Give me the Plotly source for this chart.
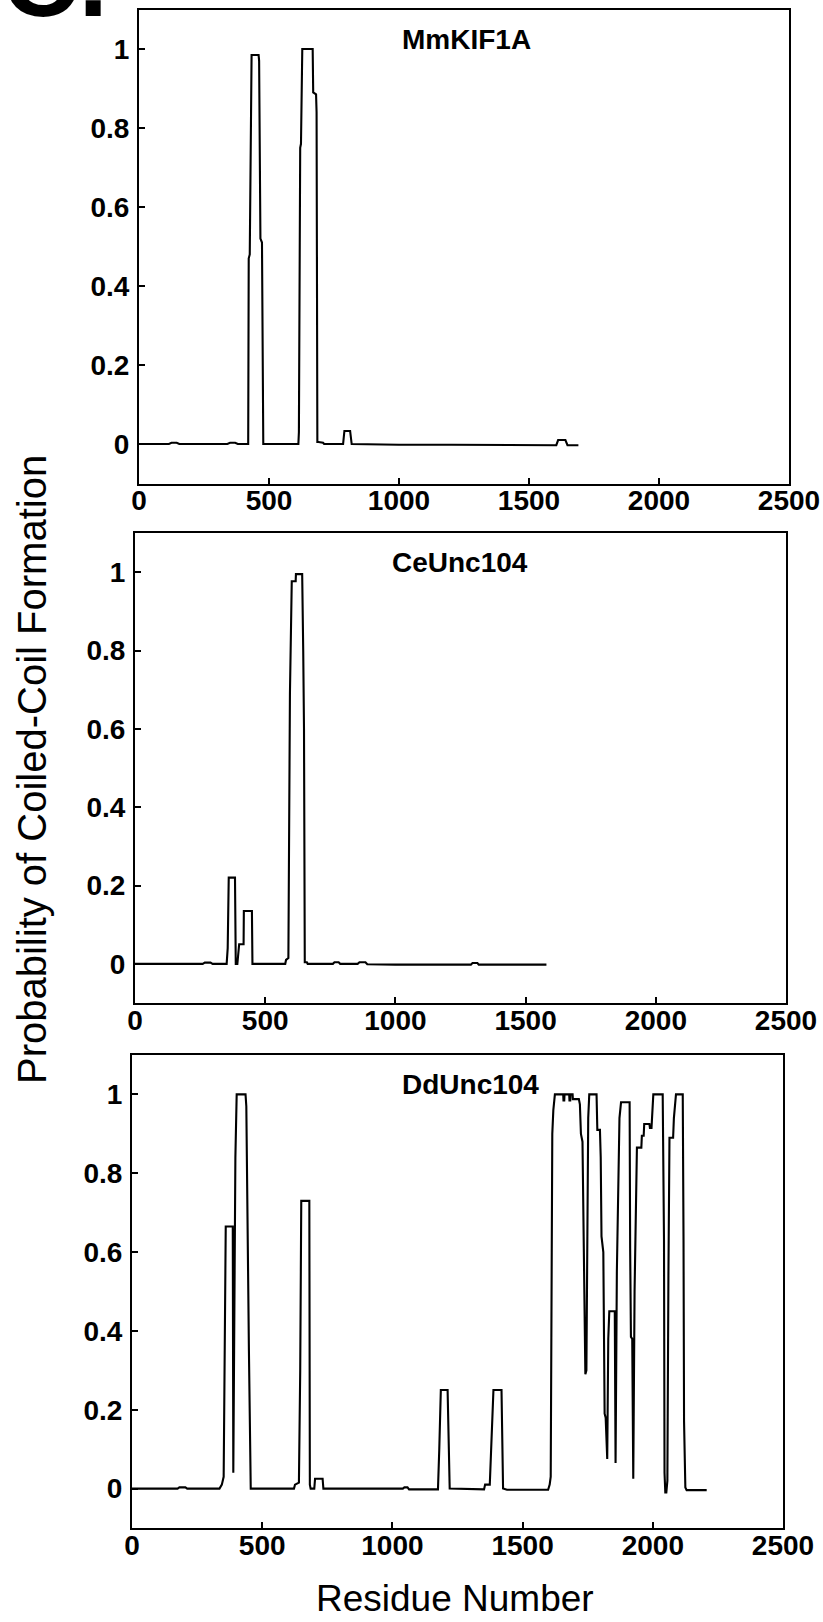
import plotly.graph_objects as go

# ---------------- data (residue number, probability) ----------------
kif1a_res = [0, 115, 125, 145, 155, 340, 350, 370, 380, 420, 422, 426, 433, 460, 462, 465, 467,
             473, 478, 613, 615, 620, 623, 628, 668, 670, 681, 683, 686, 690, 708, 712, 785, 790,
             812, 818, 1000, 1200, 1400, 1605, 1612, 1640, 1648, 1690]
kif1a_prob = [0, 0, 0.003, 0.003, 0, 0, 0.003, 0.003, 0, 0, 0.47, 0.48, 0.985, 0.985, 0.97, 0.53,
              0.52, 0.51, 0, 0, 0.03, 0.75, 0.76, 1.0, 1.0, 0.89, 0.885, 0.84, 0.005, 0.005,
              0.003, 0, 0, 0.033, 0.033, 0, -0.002, -0.002, -0.003, -0.003, 0.01, 0.01,
              -0.003, -0.003]

ceunc_res = [0, 260, 268, 290, 298, 352, 356, 360, 384, 387, 393, 400, 417, 418, 449, 451,
             577, 580, 589, 595, 602, 617, 618, 642, 646, 649, 652, 660, 663,
             760, 766, 782, 788, 855, 862, 885, 892, 1000, 1290, 1296, 1315, 1320, 1580]
ceunc_prob = [0, 0, 0.003, 0.003, 0, 0, 0.04, 0.22, 0.22, 0, 0, 0.05, 0.05, 0.135, 0.135, 0,
              0, 0.01, 0.015, 0.69, 0.977, 0.977, 0.995, 0.995, 0.8, 0.6, 0.004, 0.004, 0,
              0, 0.004, 0.004, 0, 0, 0.004, 0.004, -0.001, -0.002, -0.002, 0.002, 0.002,
              -0.002, -0.002]

ddunc_res = [0, 175, 182, 205, 212, 336, 345, 352, 360, 387, 389, 391, 394, 397, 402, 436, 439,
             444, 449, 456, 622, 626, 641, 646, 650, 681, 683, 686, 700, 703, 732, 735, 1040,
             1046, 1058, 1064, 1175, 1180, 1186, 1212, 1215, 1220, 1352, 1356, 1374, 1380, 1388,
             1419, 1422, 1425, 1440, 1598, 1604, 1608, 1614, 1618, 1624, 1656, 1657, 1660, 1661,
             1679, 1680, 1683, 1684, 1692, 1693, 1716, 1720, 1724, 1730, 1734, 1737, 1741, 1745,
             1748, 1752, 1756, 1784, 1787, 1797, 1800, 1803, 1810, 1815, 1819, 1825, 1829, 1833,
             1854, 1857, 1862, 1867, 1872, 1878, 1911, 1913, 1916, 1921, 1925, 1930, 1934, 1939,
             1956, 1958, 1965, 1967, 1987, 1989, 1995, 1999, 2002, 2038, 2040, 2043, 2045, 2048,
             2052, 2056, 2060, 2064, 2078, 2081, 2089, 2115, 2118, 2120, 2125, 2130, 2207]
ddunc_prob = [0, 0, 0.003, 0.003, 0, 0, 0.01, 0.03, 0.665, 0.665, 0.04, 0.3, 0.8, 0.84, 1.0,
              1.0, 0.97, 0.6, 0.35, 0, 0, 0.01, 0.015, 0.3, 0.73, 0.73, 0.01, 0, 0, 0.025,
              0.025, 0, 0, 0.003, 0.003, -0.002, -0.002, 0.1, 0.25, 0.25, 0.12, 0, -0.002, 0.01,
              0.01, 0.12, 0.25, 0.25, 0.1, 0, -0.003, -0.003, 0.01, 0.03, 0.9, 0.96, 1.0, 1.0,
              0.985, 0.985, 1.0, 1.0, 0.985, 0.985, 1.0, 1.0, 0.988, 0.988, 0.975, 0.9, 0.88,
              0.6, 0.56, 0.29, 0.3, 0.6, 0.94, 1.0, 1.0, 0.91, 0.91, 0.84, 0.64, 0.6, 0.19, 0.18,
              0.075, 0.38, 0.45, 0.45, 0.065, 0.55, 0.78, 0.94, 0.98, 0.98, 0.61, 0.385, 0.38,
              0.025, 0.5, 0.7, 0.865, 0.865, 0.895, 0.895, 0.925, 0.925, 0.915, 0.915, 0.99, 1.0,
              1.0, 0.89, 0.63, 0.04, -0.01, -0.01, 0.02, 0.54, 0.89, 0.89, 0.94, 1.0, 1.0, 0.63,
              0.17, 0.003, -0.004, -0.004]

panel_names = ["MmKIF1A", "CeUnc104", "DdUnc104"]
x_ticks = [0, 500, 1000, 1500, 2000, 2500]
y_ticks = [0, 0.2, 0.4, 0.6, 0.8, 1]
y_tick_text = ["0", "0.2", "0.4", "0.6", "0.8", "1"]

# ---------------- layout constants (pixels) ----------------
W, H = 823, 1622
boxes = [  # left, right, top, bottom in pixels
    (139, 789, 9.5, 483.5),
    (135, 786, 533, 1003),
    (132, 783, 1055, 1528),
]
title_pos = [(467, 40), (460, 563), (470, 1084)]

FONT = "Liberation Sans, Arial, Helvetica, sans-serif"

def px2x(px):
    return px / W

def px2y(py):
    return 1 - py / H

fig = go.Figure()
series = [(kif1a_res, kif1a_prob), (ceunc_res, ceunc_prob), (ddunc_res, ddunc_prob)]
for i, (xs, ys) in enumerate(series):
    suffix = "" if i == 0 else str(i + 1)
    fig.add_trace(go.Scatter(x=xs, y=ys, mode="lines",
                             line=dict(color="black", width=2.1),
                             xaxis="x" + suffix, yaxis="y" + suffix,
                             showlegend=False, hoverinfo="skip"))

axis_common = dict(showgrid=False, zeroline=False, showline=True, linecolor="black",
                   linewidth=2, mirror=True, ticks="inside", ticklen=6, tickwidth=1.5,
                   tickcolor="black", automargin=False,
                   tickfont=dict(family=FONT, size=28, color="black", weight="bold"))

layout = dict(width=W, height=H, margin=dict(l=0, r=0, t=0, b=0, autoexpand=False),
              paper_bgcolor="white", plot_bgcolor="white", showlegend=False)

for i, (l, r, t, b) in enumerate(boxes):
    suffix = "" if i == 0 else str(i + 1)
    layout["xaxis" + suffix] = dict(axis_common, domain=[px2x(l), px2x(r)], range=[0, 2500],
                                    tickvals=x_ticks, ticktext=[str(v) for v in x_ticks],
                                    anchor="y" + suffix, ticklabelstandoff=-9)
    layout["yaxis" + suffix] = dict(axis_common, domain=[px2y(b), px2y(t)], range=[-0.1, 1.1],
                                    tickvals=y_ticks, ticktext=y_tick_text,
                                    anchor="x" + suffix, ticklabelstandoff=2)

annotations = []
for name, (tx, ty) in zip(panel_names, title_pos):
    annotations.append(dict(text=name, x=px2x(tx), y=px2y(ty), xref="paper", yref="paper",
                            xanchor="center", yanchor="middle", showarrow=False,
                            font=dict(family=FONT, size=28, color="black", weight="bold")))

annotations.append(dict(text="Residue Number", x=px2x(455), y=px2y(1598), xref="paper",
                        yref="paper", xanchor="center", yanchor="middle", showarrow=False,
                        font=dict(family=FONT, size=37, color="black")))
annotations.append(dict(text="Probability of Coiled-Coil Formation", x=px2x(32), y=px2y(770),
                        xref="paper", yref="paper", xanchor="center", yanchor="middle",
                        textangle=-90, showarrow=False,
                        font=dict(family=FONT, size=40, color="black")))
annotations.append(dict(text="C.", x=0, y=px2y(40), xref="paper", yref="paper",
                        xanchor="left", yanchor="bottom", showarrow=False,
                        font=dict(family=FONT, size=106, color="black", weight="bold")))
layout["annotations"] = annotations

fig.update_layout(**layout)
fig.write_html("out.html")
